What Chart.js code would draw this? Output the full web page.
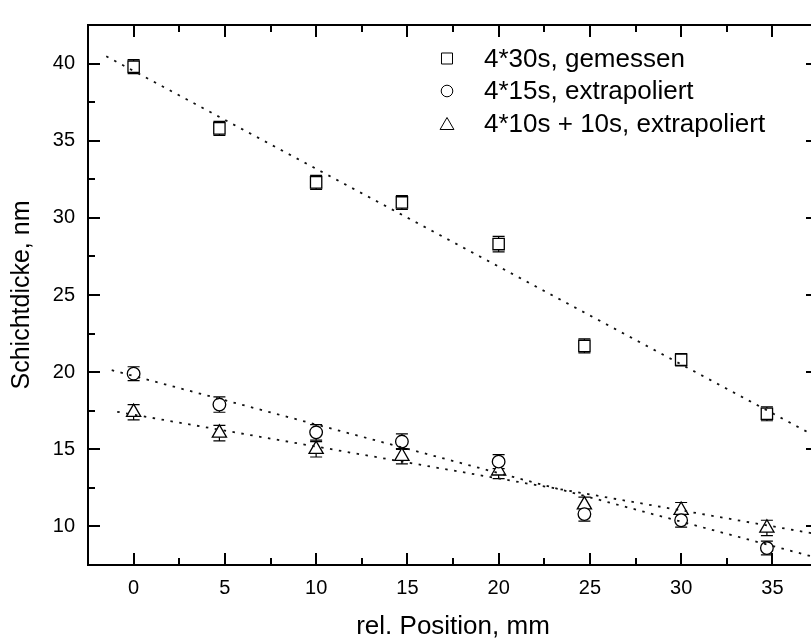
<!DOCTYPE html>
<html>
<head>
<meta charset="utf-8">
<script src="https://cdn.jsdelivr.net/npm/chart.js@4/dist/chart.umd.min.js"></script>
<style>
  html, body { margin: 0; padding: 0; background: #fff; overflow: hidden; }
  #wrap { width: 811px; height: 642px; overflow: hidden; }
  canvas { display: block; }
</style>
</head>
<body>
<div id="wrap"><canvas id="myChart" width="830" height="642"></canvas></div>
<script>
// rel. Position (mm) of the measuring points
const positions = [0, 4.7, 10, 14.7, 20, 24.7, 30, 34.7];

// Schichtdicke (nm) per series
const gemessen30 = [39.8, 35.8, 32.3, 31.0, 28.3, 21.7, 20.8, 17.3];
const extrapol15 = [19.9, 17.9, 16.1, 15.5, 14.2, 10.8, 10.4, 8.6];
const extrapol10 = [17.4, 16.05, 15.0, 14.55, 13.6, 11.4, 11.05, 9.9];

// error bars (+/- nm)
const err30 = [0.45, 0.45, 0.45, 0.45, 0.5, 0.45, 0.4, 0.45];
const err15 = [0.45, 0.5, 0.5, 0.5, 0.45, 0.45, 0.45, 0.45];
const err10 = [0.5, 0.5, 0.5, 0.5, 0.5, 0.5, 0.5, 0.5];

// dotted fit lines: endpoints
const fit30X = [-1.5, 37.5], fit30Y = [40.47, 15.75];
const fit15X = [-1.2, 37.5], fit15Y = [20.13, 7.95];
const fit10X = [-0.9, 37.5], fit10Y = [17.43, 9.49];

// tick labels
const xTicks = [0, 5, 10, 15, 20, 25, 30, 35];
const yTicks = [10, 15, 20, 25, 30, 35, 40];

const labels = ["4*30s, gemessen", "4*15s, extrapoliert", "4*10s + 10s, extrapoliert"];

const xTitle = "rel. Position, mm";
const yTitle = "Schichtdicke, nm";

const FONT = "'Liberation Sans', Arial, sans-serif";
Chart.defaults.font.family = FONT;
Chart.defaults.color = "#000";

const pts = (xs, ys) => xs.map((x, i) => ({ x: x, y: ys[i] }));

function marker(label, ys, errs, style, radius) {
  return {
    label: label,
    data: pts(positions, ys),
    errors: errs,
    pointStyle: style,
    pointRadius: radius,
    pointHoverRadius: radius,
    pointBackgroundColor: "#fff",
    pointBorderColor: "#000",
    pointBorderWidth: 1.3,
    order: 2,
  };
}

function fitLine(xs, ys) {
  return {
    type: "line",
    data: pts(xs, ys),
    borderColor: "#111",
    borderWidth: 1.8,
    borderDash: [2.5, 6.5],
    pointRadius: 0,
    fill: false,
    order: 0,
  };
}

// error bars drawn under the (white filled) markers
const errorBars = {
  id: "errorBars",
  beforeDatasetsDraw(chart) {
    const { ctx, scales: { x, y } } = chart;
    ctx.save();
    ctx.strokeStyle = "#000";
    ctx.lineWidth = 1.2;
    chart.data.datasets.forEach((ds) => {
      if (!ds.errors) return;
      ds.data.forEach((p, i) => {
        const px = x.getPixelForValue(p.x);
        const top = y.getPixelForValue(p.y + ds.errors[i]);
        const bot = y.getPixelForValue(p.y - ds.errors[i]);
        ctx.beginPath();
        ctx.moveTo(px, top); ctx.lineTo(px, bot);
        ctx.moveTo(px - 6, top); ctx.lineTo(px + 6, top);
        ctx.moveTo(px - 6, bot); ctx.lineTo(px + 6, bot);
        ctx.stroke();
      });
    });
    ctx.restore();
  },
};

// box frame with inward ticks on all four sides
const frame = {
  id: "frame",
  afterDraw(chart) {
    const { ctx, chartArea: a, scales: { x, y } } = chart;
    const minorsOf = (scale) => {
      const major = scale.ticks.map((t) => t.value);
      const half = (major[1] - major[0]) / 2;
      return [major[0] - half].concat(major.map((v) => v + half))
        .filter((v) => v > scale.min && v < scale.max);
    };
    ctx.save();
    ctx.strokeStyle = "#000";
    ctx.lineWidth = 2;
    ctx.strokeRect(a.left, a.top, a.right - a.left, a.bottom - a.top);
    ctx.beginPath();
    const xt = (vals, len) => vals.forEach((v) => {
      const px = Math.round(x.getPixelForValue(v));
      ctx.moveTo(px, a.bottom); ctx.lineTo(px, a.bottom - len);
      ctx.moveTo(px, a.top); ctx.lineTo(px, a.top + len);
    });
    const yt = (vals, len) => vals.forEach((v) => {
      const py = Math.round(y.getPixelForValue(v));
      ctx.moveTo(a.left, py); ctx.lineTo(a.left + len, py);
      ctx.moveTo(a.right, py); ctx.lineTo(a.right - len, py);
    });
    xt(x.ticks.map((t) => t.value), 12);
    xt(minorsOf(x), 7);
    yt(y.ticks.map((t) => t.value), 12);
    yt(minorsOf(y), 7);
    ctx.stroke();
    ctx.restore();
  },
};

// legend in the upper right part of the plot
const boxLegend = {
  id: "boxLegend",
  afterDraw(chart) {
    const { ctx } = chart;
    const styles = ["rect", "circle", "triangle"];
    const radii = [7.8, 5.8, 8];
    ctx.save();
    ctx.font = "26px " + FONT;
    ctx.textBaseline = "middle";
    ctx.textAlign = "left";
    labels.forEach((txt, i) => {
      const cy = 58.5 + i * 32.5;
      ctx.strokeStyle = "#000";
      ctx.fillStyle = "#fff";
      Chart.helpers.drawPoint(ctx, { pointStyle: styles[i], radius: radii[i], borderWidth: 1, rotation: 0 }, 447, cy + (i === 2 ? 2 : 0));
      ctx.fillStyle = "#000";
      ctx.fillText(txt, 484, cy + 1);
    });
    ctx.restore();
  },
};

const config = {
  type: "scatter",
  data: {
    datasets: [
      marker(labels[0], gemessen30, err30, "rect", 8),
      marker(labels[1], extrapol15, err15, "circle", 6.3),
      marker(labels[2], extrapol10, err10, "triangle", 8.2),
      fitLine(fit30X, fit30Y),
      fitLine(fit15X, fit15Y),
      fitLine(fit10X, fit10Y),
    ],
  },
  options: {
    responsive: false,
    animation: false,
    events: [],
    layout: { padding: { top: 12, right: 12, left: 0, bottom: 0 } },
    plugins: { legend: { display: false }, tooltip: { enabled: false } },
    scales: {
      x: {
        type: "linear",
        min: -2.5,
        max: 37.5,
        grid: { display: false, drawTicks: false },
        border: { display: false },
        ticks: { padding: 11, font: { size: 20 } },
        afterBuildTicks(scale) { scale.ticks = xTicks.map((v) => ({ value: v })); },
        title: { display: true, text: xTitle, font: { size: 26 }, padding: { top: 0, bottom: 0 } },
        afterFit(scale) { scale.height = 77; },
      },
      y: {
        type: "linear",
        min: 7.5,
        max: 42.5,
        grid: { display: false, drawTicks: false },
        border: { display: false },
        ticks: { padding: 13, font: { size: 20 } },
        afterBuildTicks(scale) { scale.ticks = yTicks.map((v) => ({ value: v })); },
        title: { display: true, text: yTitle, font: { size: 25 }, padding: { top: 7, bottom: 0 } },
        afterFit(scale) { scale.width = 88; },
      },
    },
  },
  plugins: [errorBars, frame, boxLegend],
};

const myChart = new Chart(document.getElementById("myChart"), config);
</script>
</body>
</html>
